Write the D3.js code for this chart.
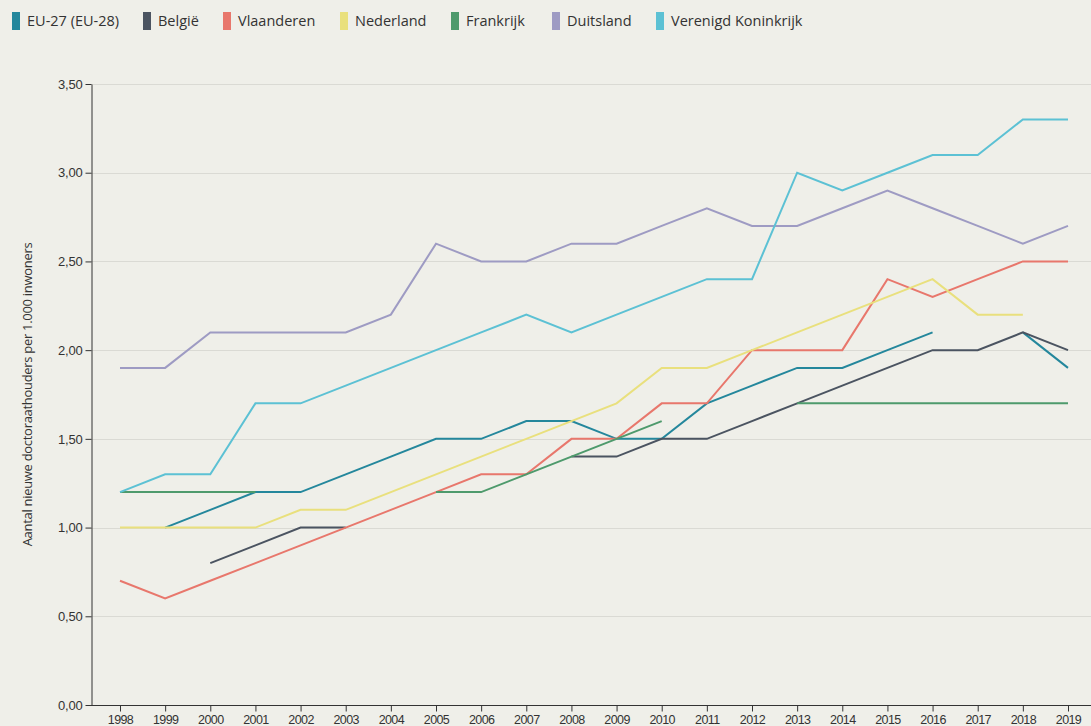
<!DOCTYPE html>
<html><head><meta charset="utf-8">
<script src="https://cdn.jsdelivr.net/npm/d3@7"></script>
<style>
html,body{margin:0;padding:0;background:#efefe9;}
svg{display:block;font-family:"Open Sans",sans-serif;}
</style></head>
<body>
<svg id="chart" width="1091" height="726"></svg>
<script>
const years = [1998,1999,2000,2001,2002,2003,2004,2005,2006,2007,2008,2009,2010,2011,2012,2013,2014,2015,2016,2017,2018,2019];
const seriesNames = ["EU-27 (EU-28)","België","Vlaanderen","Nederland","Frankrijk","Duitsland","Verenigd Koninkrijk"];
const seriesColors = ["#24879c","#4b5461","#e8776c","#e9e07d","#4e9a6c","#9e9bc3","#5cc1d4"];
const eu27 =       [null,1.0,1.1,1.2,1.2,1.3,1.4,1.5,1.5,1.6,1.6,1.5,1.5,1.7,1.8,1.9,1.9,2.0,2.1,null,2.1,1.9];
const belgie =     [null,null,0.8,0.9,1.0,1.0,null,null,null,null,1.4,1.4,1.5,1.5,1.6,1.7,1.8,1.9,2.0,2.0,2.1,2.0];
const vlaanderen = [0.7,0.6,0.7,0.8,0.9,1.0,1.1,1.2,1.3,1.3,1.5,1.5,1.7,1.7,2.0,2.0,2.0,2.4,2.3,2.4,2.5,2.5];
const nederland =  [1.0,1.0,1.0,1.0,1.1,1.1,1.2,1.3,1.4,1.5,1.6,1.7,1.9,1.9,2.0,2.1,2.2,2.3,2.4,2.2,2.2,null];
const frankrijk =  [1.2,1.2,1.2,1.2,null,null,null,1.2,1.2,1.3,1.4,1.5,1.6,null,null,1.7,1.7,1.7,1.7,1.7,1.7,1.7];
const duitsland =  [1.9,1.9,2.1,2.1,2.1,2.1,2.2,2.6,2.5,2.5,2.6,2.6,2.7,2.8,2.7,2.7,2.8,2.9,2.8,2.7,2.6,2.7];
const vk =         [1.2,1.3,1.3,1.7,1.7,1.8,1.9,2.0,2.1,2.2,2.1,2.2,2.3,2.4,2.4,3.0,2.9,3.0,3.1,3.1,3.3,3.3];
const yTicks = [0,0.5,1.0,1.5,2.0,2.5,3.0,3.5];
const yTitle = "Aantal nieuwe doctoraathouders per 1.000 inwoners";
const legendX = [12,143,223,340,451,552,656];

const seriesValues = [eu27,belgie,vlaanderen,nederland,frankrijk,duitsland,vk];

const svg = d3.select("#chart");
const W = 1091;
const axisX = 91, axisY = 705;
const x = d3.scaleLinear().domain([1998,2019]).range([120,1068]);
const y = d3.scaleLinear().domain([0,3.5]).range([705,84]);
const fmt = v => d3.format(".2f")(v).replace(".", ",");

// gridlines
svg.append("g").selectAll("line").data(yTicks.filter(t=>t>0)).join("line")
  .attr("x1", axisX).attr("x2", W)
  .attr("y1", d=>Math.round(y(d))+0.5).attr("y2", d=>Math.round(y(d))+0.5)
  .attr("stroke", "#dadad4").attr("stroke-width", 1);

// y axis
const yAxis = svg.append("g").attr("transform", `translate(${axisX + 0.5},0)`)
  .call(d3.axisLeft(y).tickValues(yTicks).tickFormat(fmt).tickSize(6).tickSizeOuter(0));
yAxis.select(".domain").attr("stroke", "#333");
yAxis.selectAll(".tick line").attr("stroke", "#333");
yAxis.selectAll(".tick text").attr("fill", "#333").attr("font-size", 13).attr("x", -9).style("letter-spacing","-0.2px");

// x axis
const xAxis = svg.append("g").attr("transform", `translate(0,${axisY + 0.5})`)
  .call(d3.axisBottom(x).tickValues(years).tickFormat(d3.format("d")).tickSize(6).tickSizeOuter(0));
xAxis.select(".domain").attr("d", `M${axisX},0H${W}`).attr("stroke", "#333");
xAxis.selectAll(".tick line").attr("stroke", "#333");
xAxis.selectAll(".tick text").attr("fill", "#333").attr("font-size", 12.5).attr("y", 10).style("letter-spacing","-0.6px");

// y title
svg.append("text")
  .attr("transform", `translate(32,${(84+705)/2}) rotate(-90)`)
  .attr("text-anchor", "middle").attr("font-size", 13).attr("fill", "#333")
  .style("letter-spacing","-0.3px")
  .text(yTitle);

// lines
const line = d3.line()
  .defined(d => d.v !== null)
  .x(d => x(d.year)).y(d => y(d.v));
seriesValues.forEach((vals, i) => {
  svg.append("path")
    .datum(years.map((yr, j) => ({year: yr, v: vals[j]})))
    .attr("fill", "none")
    .attr("stroke", seriesColors[i])
    .attr("stroke-width", 2)
    .attr("stroke-linejoin", "miter")
    .attr("d", line);
});

// legend
const leg = svg.append("g");
seriesNames.forEach((name, i) => {
  const g = leg.append("g").attr("transform", `translate(${legendX[i]},0)`);
  g.append("rect").attr("x", 0).attr("y", 12).attr("width", 8).attr("height", 18).attr("fill", seriesColors[i]);
  g.append("text").attr("x", 15).attr("y", 26).attr("font-size", 14.5).attr("fill", "#333")
    .text(name);
});
</script>
</body></html>
